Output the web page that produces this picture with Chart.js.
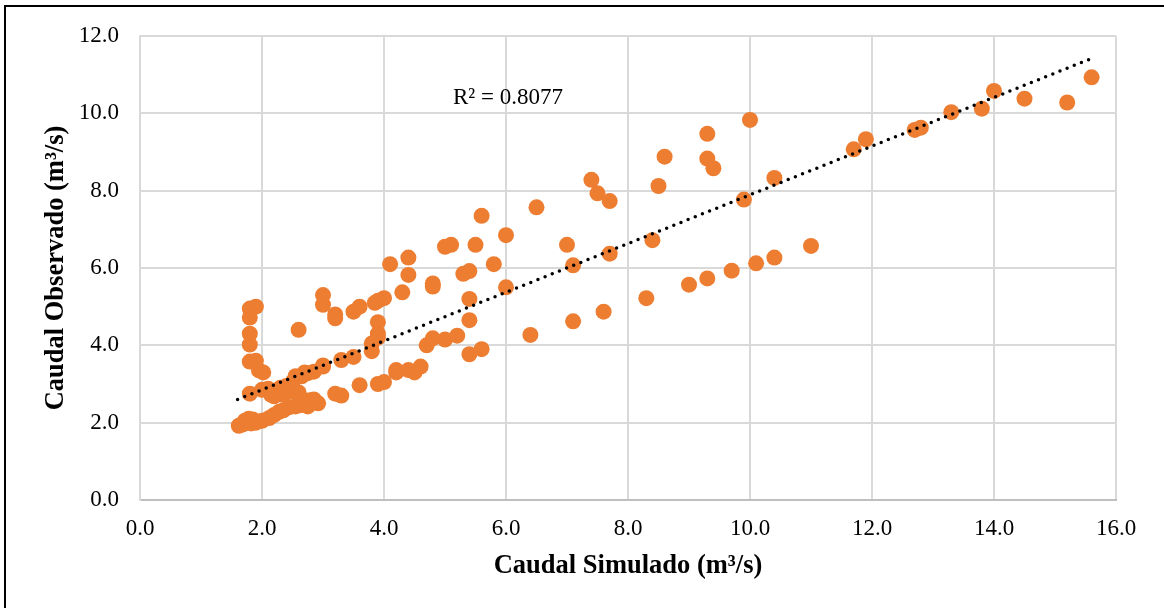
<!DOCTYPE html>
<html>
<head>
<meta charset="utf-8">
<script src="https://cdn.jsdelivr.net/npm/chart.js@4"></script>
<style>
  html, body { margin: 0; padding: 0; background: #fff; }
  #wrap { position: relative; width: 1164px; height: 608px; overflow: hidden; }
  #frame { position: absolute; left: 4px; top: 5px; width: 1300px; height: 800px; border-left: 2px solid #000; border-top: 2px solid #000; pointer-events: none; }
</style>
</head>
<body>
<div id="wrap">
  <canvas id="chart" width="1164" height="608" style="width:1164px;height:608px;"></canvas>
  <div id="frame"></div>
</div>
<script>
// Caudal simulado (x) vs observado (y), m3/s
const simulado = [
  1.62, 1.68, 1.72, 1.78, 1.85, 1.90, 1.82, 2.00, 2.12, 2.20, 2.28, 2.35, 2.45, 2.55, 2.62, 2.70, 2.78, 2.85, 2.92, 2.75,
  1.80, 2.00, 2.10, 2.20, 2.30, 2.40, 2.50, 2.55, 2.65, 2.75, 2.85, 3.00, 2.20, 2.35, 2.45, 2.60, 2.15, 2.50,
  1.80, 1.90, 1.80, 1.80, 1.80, 1.80, 1.90, 1.95, 2.02, 2.60,
  3.00, 3.00, 3.20, 3.20, 3.50, 3.60, 3.85, 3.90, 4.00, 3.90, 3.90, 3.90, 3.80, 3.80, 3.50, 3.30, 3.00, 2.70,
  3.20, 3.30, 3.60, 3.90, 4.00, 4.20, 4.20, 4.40, 4.50, 4.60, 2.85,
  4.10, 4.40, 4.40, 4.30, 4.80, 4.80, 5.00, 5.10, 5.50, 5.30, 5.40, 5.80, 5.60, 6.00, 6.00, 5.40, 5.40, 5.20, 5.00, 4.80, 4.70, 5.40, 5.60,
  6.50, 7.00, 7.10, 7.10, 6.40, 7.60, 7.40, 7.50, 7.70, 7.70, 8.40, 8.30, 8.50, 8.60,
  9.30, 9.30, 9.40, 10.00, 9.90, 10.40, 9.00, 9.30, 9.70, 10.10, 10.40, 11.00,
  11.70, 11.90, 12.70, 12.80, 13.30, 13.80, 14.00, 14.50, 15.20, 15.60
];
const observado = [
  1.92, 1.95, 2.05, 2.10, 2.08, 2.00, 1.98, 2.05, 2.12, 2.20, 2.28, 2.32, 2.40, 2.42, 2.45, 2.52, 2.58, 2.55, 2.50, 2.42,
  2.75, 2.85, 2.88, 2.82, 2.90, 2.95, 3.05, 3.20, 3.20, 3.28, 3.32, 3.45, 2.68, 2.72, 2.80, 2.78, 2.72, 2.88,
  4.95, 5.00, 4.72, 4.30, 4.02, 3.58, 3.60, 3.35, 3.30, 4.40,
  5.30, 5.05, 4.80, 4.70, 4.87, 5.00, 5.10, 5.15, 5.22, 4.60, 4.30, 4.20, 4.05, 3.85, 3.70, 3.62, 3.48, 3.30,
  2.75, 2.70, 2.97, 3.00, 3.05, 3.30, 3.36, 3.36, 3.30, 3.45, 2.60,
  6.10, 6.27, 5.82, 5.37, 5.60, 5.52, 6.55, 6.60, 6.60, 5.85, 5.92, 6.10, 7.35, 6.85, 5.50, 5.20, 4.65, 4.25, 4.15, 4.18, 4.00, 3.77, 3.90,
  7.57, 6.60, 6.07, 4.62, 4.27, 4.87, 8.28, 7.93, 7.73, 6.37, 6.72, 5.22, 8.12, 8.88,
  9.47, 8.83, 8.58, 9.83, 7.77, 8.33, 5.57, 5.73, 5.93, 6.12, 6.27, 6.57,
  9.07, 9.33, 9.57, 9.63, 10.03, 10.12, 10.58, 10.38, 10.28, 10.93
];

// linear trendline endpoints as drawn in the picture
const trendX = [1.6, 15.6];
const trendY = [2.6, 11.42];
const r2Text = 'R² = 0.8077';

const xTitle = 'Caudal Simulado (m³/s)';
const yTitle = 'Caudal Observado (m³/s)';

const serif = "'Liberation Serif', 'Times New Roman', serif";
Chart.defaults.font.family = serif;
Chart.defaults.color = '#000';

const r2Label = {
  id: 'r2Label',
  afterDatasetsDraw(chart) {
    const { ctx, scales: { x, y } } = chart;
    ctx.save();
    ctx.font = '23px ' + serif;
    ctx.fillStyle = '#000';
    ctx.textAlign = 'left';
    ctx.textBaseline = 'alphabetic';
    ctx.fillText(r2Text, x.getPixelForValue(5.13), y.getPixelForValue(10.23));
    ctx.restore();
  }
};

new Chart(document.getElementById('chart').getContext('2d'), {
  type: 'scatter',
  data: {
    datasets: [
      {
        label: 'Tendencia',
        type: 'line',
        data: trendX.map((v, i) => ({ x: v, y: trendY[i] })),
        borderColor: '#000',
        borderWidth: 3.5,
        borderDash: [0, 7.7],
        borderCapStyle: 'round',
        pointRadius: 0,
        fill: false,
        order: 0
      },
      {
        label: 'Caudal',
        data: simulado.map((v, i) => ({ x: v, y: observado[i] })),
        backgroundColor: '#ed7d31',
        borderWidth: 0,
        pointRadius: 8,
        order: 1
      }
    ]
  },
  options: {
    responsive: false,
    animation: false,
    layout: { padding: { left: 0, right: 48, top: 36, bottom: 0 } },
    plugins: { legend: { display: false }, tooltip: { enabled: false } },
    scales: {
      x: {
        min: 0, max: 16,
        afterFit: s => { s.height = 108; },
        grid: { color: '#d9d9d9', lineWidth: 2, drawTicks: false },
        border: { color: '#bfbfbf', width: 2 },
        ticks: { stepSize: 2, padding: 15, font: { size: 23 }, callback: v => v.toFixed(1) },
        title: { display: true, text: xTitle, font: { size: 26.5, weight: 'bold' }, padding: { top: 0, bottom: 26 } }
      },
      y: {
        min: 0, max: 12,
        afterFit: s => { s.width = 140; },
        grid: { color: '#d9d9d9', lineWidth: 2, drawTicks: false },
        border: { color: '#d9d9d9', width: 2 },
        ticks: { stepSize: 2, padding: 21, font: { size: 23 }, callback: v => v.toFixed(1) },
        title: { display: true, text: yTitle, font: { size: 26.5, weight: 'bold' }, padding: { top: 40, bottom: 0 } }
      }
    }
  },
  plugins: [r2Label]
});
</script>
</body>
</html>
